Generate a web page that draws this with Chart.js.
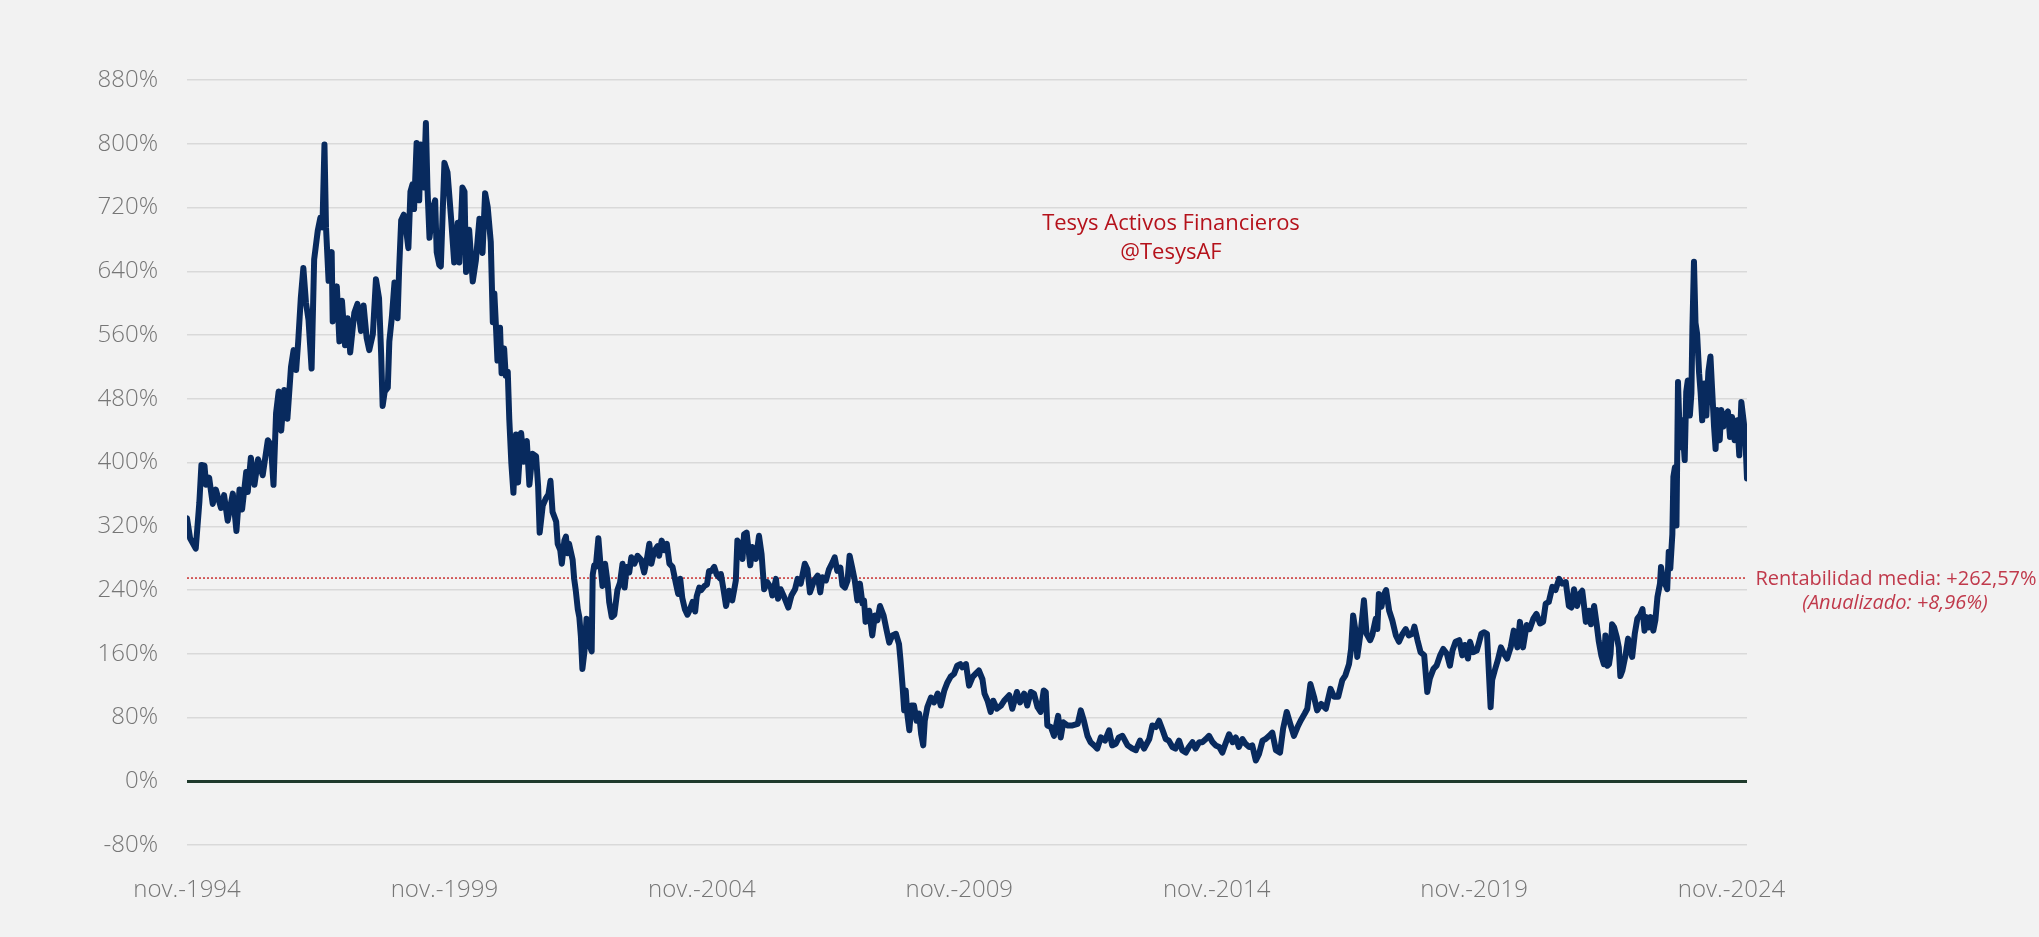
<!DOCTYPE html>
<html>
<head>
<meta charset="utf-8">
<script src="https://cdn.jsdelivr.net/npm/chart.js@4"></script>
<style>
  html, body { margin: 0; padding: 0; background: #f2f2f2; }
  #wrap { width: 2039px; height: 937px; position: relative; }
</style>
</head>
<body>
<div id="wrap"><canvas id="myChart"></canvas></div>
<script>
// fecha (año decimal) y rentabilidad acumulada (%)
const fechas = [
  1994.83, 1994.89, 1995.00, 1995.07, 1995.11, 1995.17, 1995.20, 1995.26, 1995.33, 1995.39,
  1995.49, 1995.55, 1995.62, 1995.72, 1995.79, 1995.85, 1995.90, 1995.98, 1996.01, 1996.07,
  1996.14, 1996.21, 1996.30, 1996.40, 1996.46, 1996.51, 1996.56, 1996.61, 1996.66, 1996.72,
  1996.78, 1996.85, 1996.90, 1996.95, 1996.99, 1997.04, 1997.09, 1997.14, 1997.19, 1997.25,
  1997.30, 1997.37, 1997.42, 1997.46, 1997.50, 1997.53, 1997.58, 1997.64, 1997.66, 1997.74,
  1997.79, 1997.84, 1997.90, 1997.95, 1998.00, 1998.08, 1998.14, 1998.21, 1998.26, 1998.32,
  1998.37, 1998.44, 1998.50, 1998.56, 1998.60, 1998.63, 1998.67, 1998.73, 1998.76, 1998.81,
  1998.86, 1998.92, 1998.95, 1998.99, 1999.04, 1999.08, 1999.13, 1999.17, 1999.21, 1999.24,
  1999.29, 1999.34, 1999.37, 1999.43, 1999.47, 1999.50, 1999.54, 1999.60, 1999.65, 1999.68,
  1999.73,
  1999.76, 1999.83, 1999.89, 1999.96, 2000.02, 2000.09, 2000.12, 2000.18, 2000.22, 2000.25,
  2000.31, 2000.38, 2000.44, 2000.51, 2000.57, 2000.62, 2000.67, 2000.73, 2000.77, 2000.80,
  2000.83, 2000.86, 2000.91, 2000.94, 2000.99, 2001.02, 2001.06, 2001.09, 2001.13, 2001.17,
  2001.22, 2001.26, 2001.32, 2001.37, 2001.43, 2001.48, 2001.54, 2001.61, 2001.65, 2001.68,
  2001.74, 2001.80, 2001.85, 2001.89, 2001.93, 2002.00, 2002.03, 2002.08, 2002.11, 2002.16,
  2002.19, 2002.22, 2002.25, 2002.32, 2002.35, 2002.38, 2002.42, 2002.45, 2002.48, 2002.51,
  2002.55, 2002.59, 2002.64, 2002.69, 2002.71, 2002.74, 2002.77, 2002.82, 2002.86, 2002.90,
  2002.95, 2003.00, 2003.03, 2003.08, 2003.13, 2003.19, 2003.24, 2003.29, 2003.33, 2003.37,
  2003.42, 2003.46, 2003.52, 2003.58, 2003.65, 2003.71, 2003.76, 2003.81, 2003.85, 2003.90,
  2003.97, 2004.00, 2004.05, 2004.10, 2004.15, 2004.20, 2004.26, 2004.33, 2004.37, 2004.41,
  2004.45, 2004.50, 2004.55, 2004.60, 2004.65, 2004.70, 2004.73, 2004.78, 2004.82, 2004.88,
  2004.93, 2004.97, 2005.02, 2005.07, 2005.12, 2005.19,
  2005.20, 2005.25, 2005.30, 2005.36, 2005.42, 2005.46, 2005.49, 2005.52, 2005.57, 2005.62,
  2005.65, 2005.70, 2005.77, 2005.81, 2005.88, 2005.94, 2005.99, 2006.04, 2006.10, 2006.17,
  2006.20, 2006.27, 2006.31, 2006.36, 2006.43, 2006.51, 2006.57, 2006.64, 2006.69, 2006.75,
  2006.83, 2006.88, 2006.93, 2007.01, 2007.08, 2007.13, 2007.17, 2007.24, 2007.30, 2007.37,
  2007.41, 2007.46, 2007.52, 2007.56, 2007.61, 2007.66, 2007.70, 2007.75, 2007.80, 2007.85,
  2007.90, 2007.95, 2007.98, 2008.01, 2008.08, 2008.14, 2008.19, 2008.24, 2008.29, 2008.36,
  2008.42, 2008.47, 2008.53, 2008.60, 2008.66, 2008.69, 2008.73, 2008.76, 2008.79, 2008.82,
  2008.86, 2008.90, 2008.95, 2009.00, 2009.05, 2009.09, 2009.13, 2009.16, 2009.21, 2009.28,
  2009.34, 2009.41, 2009.47, 2009.54, 2009.60, 2009.66, 2009.73, 2009.79, 2009.85, 2009.89,
  2009.96, 2010.02, 2010.09, 2010.15, 2010.21, 2010.28, 2010.32, 2010.38, 2010.44, 2010.49,
  2010.56,
  2010.64, 2010.70, 2010.80, 2010.86, 2010.95, 2011.01, 2011.09, 2011.15, 2011.22, 2011.28,
  2011.35, 2011.41, 2011.47, 2011.51, 2011.54, 2011.61, 2011.67, 2011.75, 2011.80, 2011.85,
  2011.93, 2012.03, 2012.13, 2012.19, 2012.25, 2012.32, 2012.38, 2012.45, 2012.51, 2012.58,
  2012.66, 2012.74, 2012.80, 2012.87, 2012.93, 2013.00, 2013.10, 2013.19, 2013.26, 2013.34,
  2013.42, 2013.52, 2013.58, 2013.65, 2013.71, 2013.78, 2013.84, 2013.90, 2013.97, 2014.03,
  2014.10, 2014.16, 2014.23, 2014.29, 2014.36, 2014.42, 2014.49, 2014.55, 2014.62, 2014.68,
  2014.75, 2014.81, 2014.88, 2014.94, 2015.00, 2015.07, 2015.14, 2015.20, 2015.26, 2015.33,
  2015.39, 2015.46, 2015.52, 2015.59, 2015.65, 2015.72, 2015.78, 2015.85, 2015.91, 2015.98,
  2016.06, 2016.12, 2016.19, 2016.25, 2016.33, 2016.40, 2016.46, 2016.54, 2016.59, 2016.65,
  2016.72, 2016.78, 2016.86, 2016.95, 2017.04, 2017.11, 2017.19, 2017.27, 2017.33, 2017.40,
  2017.44, 2017.48, 2017.53, 2017.56, 2017.63, 2017.69, 2017.74, 2017.81, 2017.85, 2017.92,
  2017.95, 2017.98, 2018.03, 2018.07, 2018.12, 2018.18, 2018.24, 2018.31, 2018.37, 2018.44,
  2018.50, 2018.56, 2018.63, 2018.67, 2018.73, 2018.79, 2018.86, 2018.89, 2018.92, 2018.97,
  2019.04, 2019.10, 2019.17, 2019.23, 2019.30, 2019.36, 2019.41, 2019.47, 2019.54, 2019.60,
  2019.65, 2019.71, 2019.75, 2019.81, 2019.88, 2019.92, 2019.97, 2020.02, 2020.08, 2020.11,
  2020.15, 2020.18, 2020.23, 2020.29, 2020.35, 2020.41, 2020.47, 2020.54, 2020.60, 2020.67,
  2020.72, 2020.78, 2020.85, 2020.91, 2020.98, 2021.04, 2021.11, 2021.17, 2021.22, 2021.28,
  2021.35, 2021.41, 2021.48,
  2021.54, 2021.61, 2021.67, 2021.72, 2021.77, 2021.83, 2021.88, 2021.93, 2021.96, 2022.00,
  2022.06, 2022.10, 2022.16, 2022.21, 2022.25, 2022.30, 2022.35, 2022.38, 2022.42, 2022.45,
  2022.48, 2022.51, 2022.55, 2022.60, 2022.64, 2022.67, 2022.71, 2022.77, 2022.82, 2022.87,
  2022.90, 2022.95, 2023.00, 2023.05, 2023.10, 2023.14, 2023.18, 2023.22, 2023.26, 2023.31,
  2023.35, 2023.39, 2023.44, 2023.46, 2023.50, 2023.55, 2023.58, 2023.61, 2023.64, 2023.68,
  2023.70, 2023.73, 2023.76, 2023.79, 2023.83, 2023.87, 2023.92, 2023.95, 2023.98, 2024.02,
  2024.05, 2024.07, 2024.10, 2024.13, 2024.16, 2024.20, 2024.23, 2024.26, 2024.30, 2024.34,
  2024.38, 2024.42, 2024.45, 2024.49, 2024.52, 2024.55, 2024.60, 2024.63, 2024.67, 2024.71,
  2024.76, 2024.80, 2024.84, 2024.89, 2024.94, 2024.98, 2025.02, 2025.07, 2025.10, 2025.13,
];

const rentabilidad = [
  330, 305, 292, 350, 397, 396, 372, 381, 348, 366,
  343, 359, 327, 361, 314, 366, 341, 388, 363, 406,
  372, 404, 384, 428, 422, 372, 462, 489, 440, 491,
  455, 520, 541, 516, 552, 606, 644, 601, 579, 518,
  655, 691, 707, 695, 799, 695, 628, 664, 577, 621,
  552, 603, 547, 581, 538, 588, 599, 565, 597, 556,
  541, 561, 630, 606, 538, 471, 489, 494, 552, 583,
  626, 581, 642, 704, 711, 695, 669, 740, 749, 718,
  801, 729, 799, 745, 826, 745, 682, 718, 729, 664,
  648,
  646, 776, 764, 706, 651, 701, 651, 745, 740, 639,
  692, 627, 653, 706, 663, 738, 721, 677, 576, 612,
  572, 528, 569, 512, 543, 509, 514, 454, 399, 362,
  435, 375, 437, 401, 427, 372, 411, 408, 370, 312,
  346, 355, 360, 377, 338, 326, 298, 290, 273, 302,
  307, 286, 298, 278, 254, 240, 216, 206, 182, 141,
  163, 204, 173, 163, 259, 271, 269, 305, 273, 245,
  273, 249, 225, 206, 209, 240, 249, 273, 243, 269,
  262, 281, 273, 283, 278, 262, 278, 298, 273, 288,
  295, 283, 302, 290, 298, 273, 269, 247, 235, 254,
  230, 216, 209, 216, 225, 213, 232, 243, 240, 245,
  247, 264, 264, 269, 259, 254,
  260, 241, 220, 239, 227, 241, 252, 302, 298, 279,
  310, 312, 271, 294, 279, 308, 285, 241, 250, 243,
  233, 254, 229, 241, 231, 218, 233, 241, 254, 248,
  273, 266, 237, 252, 258, 237, 256, 252, 266, 275,
  281, 264, 268, 246, 243, 252, 283, 268, 252, 227,
  248, 223, 227, 200, 214, 183, 208, 202, 220, 208,
  189, 174, 183, 185, 172, 151, 118, 89, 114, 85,
  64, 95, 95, 76, 85, 59, 45, 76, 93, 105,
  99, 110, 95, 114, 124, 131, 135, 145, 147, 143,
  147, 120, 131, 135, 139, 128, 110, 101, 87, 101,
  91,
  95, 101, 108, 91, 112, 99, 110, 95, 112, 110,
  93, 87, 114, 112, 70, 68, 57, 82, 55, 74,
  70, 70, 72, 89, 76, 57, 49, 45, 41, 55,
  51, 64, 45, 47, 55, 57, 45, 41, 39, 51,
  41, 53, 70, 68, 76, 64, 53, 51, 43, 41,
  51, 39, 36, 43, 49, 41, 49, 49, 53, 57,
  49, 45, 43, 36, 47, 59, 49, 55, 43, 53,
  47, 43, 45, 26, 34, 51, 53, 57, 61, 39,
  36, 66, 87, 74, 57, 68, 76, 85, 91, 122,
  106, 89, 97, 91, 116, 106, 106, 127, 133, 147,
  166, 208, 187, 156, 189, 227, 185, 177, 183, 204,
  191, 235, 219, 233, 240, 214, 202, 183, 175, 185,
  191, 183, 185, 194, 177, 162, 158, 135, 112, 129,
  141, 145, 158, 166, 160, 145, 164, 175, 177, 158,
  171, 154, 175, 162, 164, 173, 185, 187, 185, 145,
  93, 127, 139, 152, 168, 160, 154, 168, 189, 168,
  200, 168, 196, 191, 204, 210, 198, 200, 223, 225,
  244, 240, 254,
  248, 250, 220, 218, 241, 220, 235, 239, 223, 200,
  214, 197, 220, 197, 176, 158, 147, 183, 145, 147,
  160, 197, 193, 181, 168, 132, 139, 158, 179, 164,
  156, 185, 204, 208, 216, 189, 206, 193, 206, 189,
  202, 231, 248, 269, 252, 246, 241, 288, 267, 310,
  382, 394, 321, 501, 419, 453, 403, 489, 503, 459,
  487, 570, 652, 575, 562, 512, 487, 453, 499, 459,
  514, 533, 495, 445, 417, 466, 428, 466, 445, 459,
  464, 432, 457, 428, 453, 409, 476, 449, 428, 380,
];

const ticksEjeX = [1994.83, 1999.83, 2004.83, 2009.83, 2014.83, 2019.83, 2024.83];
const etiquetasEjeX = ["nov.-1994", "nov.-1999", "nov.-2004", "nov.-2009", "nov.-2014", "nov.-2019", "nov.-2024"];

// nivel en el que aparece la línea punteada de la media
const nivelMedia = 255;
const textoMedia = ["Rentabilidad media: +262,57%", "(Anualizado: +8,96%)"];
const textoFirma = ["Tesys Activos Financieros", "@TesysAF"];

const fuente = "'Open Sans', 'Noto Sans', sans-serif";
const grisEjes = "#767676";

/**
 * Join two arrays into {x, y} points for a linear x scale
 * @param {array} xs x values
 * @param {array} ys y values
 * @returns array of points
 */
const toPoints = (xs, ys) => xs.map((x, i) => ({ x: x, y: ys[i] }));

// texts drawn on top of the chart (signature and average label)
const textosPlugin = {
  id: "textos",
  afterDraw(chart) {
    const { ctx, scales } = chart;
    ctx.save();
    ctx.textAlign = "center";
    ctx.textBaseline = "middle";

    ctx.fillStyle = "#b5121b";
    ctx.font = "22px " + fuente;
    ctx.fillText(textoFirma[0], 1171, 224);
    ctx.fillText(textoFirma[1], 1171, 253);

    const yMedia = scales.y.getPixelForValue(nivelMedia);
    ctx.fillStyle = "#c0394b";
    ctx.font = "20px " + fuente;
    ctx.fillText(textoMedia[0], 1896, yMedia + 1);
    ctx.font = "italic 20px " + fuente;
    ctx.fillText(textoMedia[1], 1895, yMedia + 25);
    ctx.restore();
  },
};

const xMin = fechas[0];
const xMax = fechas[fechas.length - 1];

const ctx = document.getElementById("myChart").getContext("2d");
new Chart(ctx, {
  type: "line",
  data: {
    datasets: [
      {
        label: "Rentabilidad",
        data: toPoints(fechas, rentabilidad),
        borderColor: "#082a5e",
        borderWidth: 6,
        borderJoinStyle: "round",
        borderCapStyle: "round",
        pointRadius: 0,
        tension: 0,
        order: 1,
      },
      {
        label: "Media",
        data: toPoints([xMin, xMax], [nivelMedia, nivelMedia]),
        borderColor: "#c00000",
        borderWidth: 1.2,
        borderDash: [2, 2],
        pointRadius: 0,
        order: 2,
      },
    ],
  },
  options: {
    responsive: true,
    maintainAspectRatio: false,
    animation: false,
    devicePixelRatio: 1,
    layout: { padding: { top: 80, right: 292, bottom: 0, left: 0 } },
    plugins: {
      legend: { display: false },
      tooltip: { enabled: false },
    },
    scales: {
      x: {
        type: "linear",
        min: xMin,
        max: xMax,
        grid: { display: false, drawTicks: false },
        border: { display: false },
        afterBuildTicks: (scale) => {
          scale.ticks = ticksEjeX.map((v) => ({ value: v }));
        },
        afterFit: (scale) => {
          scale.height = 92;
        },
        ticks: {
          autoSkip: false,
          maxRotation: 0,
          padding: 31,
          color: grisEjes,
          font: { family: fuente, size: 24, weight: "300" },
          callback: (value, index) => etiquetasEjeX[index],
        },
      },
      y: {
        min: -80,
        max: 880,
        border: { display: false },
        afterFit: (scale) => {
          scale.width = 187;
        },
        grid: {
          drawTicks: false,
          color: (c) => (c.tick && c.tick.value === 0 ? "#1f3a2c" : "#d9d9d9"),
          lineWidth: (c) => (c.tick && c.tick.value === 0 ? 3 : 1.5),
        },
        ticks: {
          stepSize: 80,
          padding: 29,
          color: grisEjes,
          font: { family: fuente, size: 24, weight: "300" },
          callback: (v) => v + "%",
        },
      },
    },
  },
  plugins: [textosPlugin],
});
</script>
</body>
</html>
